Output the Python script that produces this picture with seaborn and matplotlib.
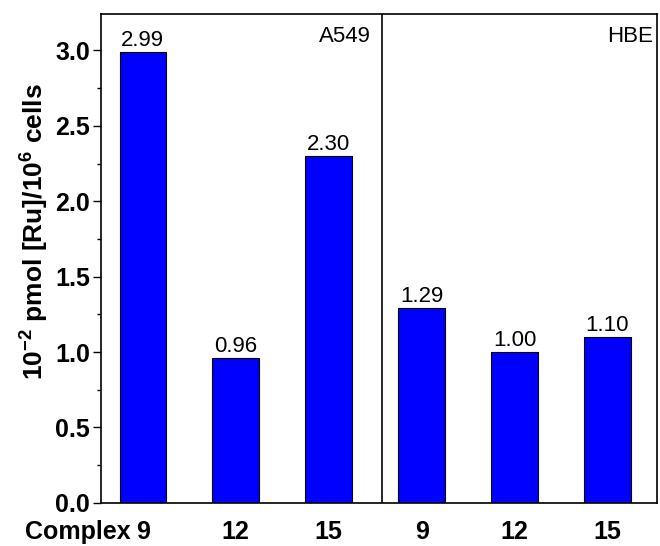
import pandas as pd
import numpy as np
import matplotlib
matplotlib.use('Agg')
import matplotlib.pyplot as plt
import seaborn as sns
from matplotlib.ticker import MultipleLocator

sns.set_style('ticks')
plt.rcParams['font.family'] = ['Liberation Sans', 'DejaVu Sans']
plt.rcParams['mathtext.fontset'] = 'custom'
plt.rcParams['mathtext.bf'] = 'Liberation Sans:bold'
plt.rcParams['mathtext.rm'] = 'Liberation Sans:bold'
for k in ['text.color', 'axes.labelcolor', 'xtick.color', 'ytick.color']:
    plt.rcParams[k] = 'black'

# Data
cell_lines = ['A549', 'A549', 'A549', 'HBE', 'HBE', 'HBE']
complexes = ['9', '12', '15', '9', '12', '15']
uptake = [2.99, 0.96, 2.30, 1.29, 1.00, 1.10]

df = pd.DataFrame({'line': cell_lines, 'complex': complexes, 'uptake': uptake})
df['key'] = df['line'] + ' ' + df['complex']

fig = plt.figure(figsize=(6.6, 5.46), dpi=100)
ax = fig.add_axes([0.153, 0.079, 0.842, 0.895])

sns.barplot(data=df, x='key', y='uptake', order=list(df['key']), color='#0000ff',
            saturation=1, width=0.5, edgecolor='black', linewidth=0.8, ax=ax)

for c in ax.containers:
    ax.bar_label(c, fmt='%.2f', padding=1, fontsize=16)

# divider between cell lines
ax.axvline(2.57, color='black', lw=1.2)
ax.text(2.45, 3.09, 'A549', ha='right', va='center', fontsize=16)
ax.text(5.49, 3.09, 'HBE', ha='right', va='center', fontsize=16)

ax.set_xlim(-0.45, 5.53)
ax.set_ylim(0, 3.24)
ax.yaxis.set_major_locator(MultipleLocator(0.5))
ax.yaxis.set_minor_locator(MultipleLocator(0.25))
ax.set_yticklabels([f'{v:.1f}' for v in ax.get_yticks()], fontsize=18, fontweight='bold')
ax.tick_params(axis='y', which='major', length=6, width=1, direction='out', pad=2)
ax.tick_params(axis='y', which='minor', length=3, width=1, direction='out')
ax.tick_params(axis='x', length=0, pad=12)
ax.set_xticks(range(len(complexes)))
ax.set_xticklabels(complexes, fontsize=18, fontweight='bold')
ax.annotate('Complex', xy=(-0.13, 0), xycoords=ax.get_xaxis_transform(),
            xytext=(0, -12), textcoords='offset points', ha='right', va='top',
            fontsize=18, fontweight='bold')

ax.set_xlabel('')
ax.set_ylabel(r'10$^{-2}$ pmol [Ru]/10$^{6}$ cells', fontsize=19, fontweight='bold')
ax.yaxis.set_label_coords(-0.092, 0.555)

for s in ax.spines.values():
    s.set_linewidth(1.2)
    s.set_color('black')

plt.savefig('out.png', dpi=100)
